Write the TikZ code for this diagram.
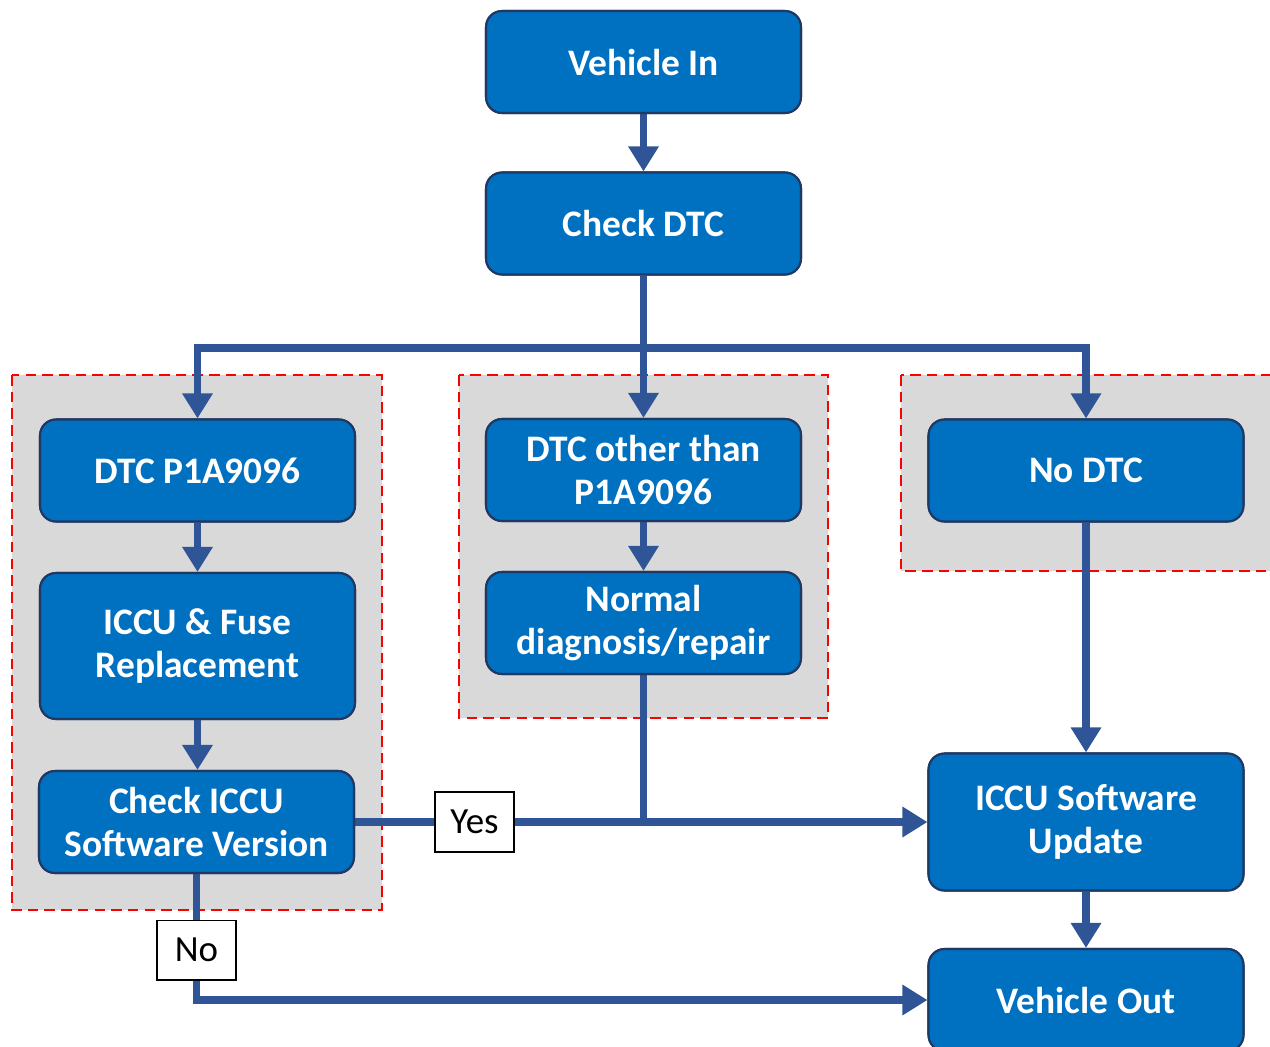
\documentclass[tikz,border=0pt]{standalone}
\usepackage{fontspec}
\setmainfont{Carlito}
\usetikzlibrary{arrows.meta}
\definecolor{boxblue}{HTML}{0070C0}
\definecolor{boxedge}{HTML}{1F3864}
\definecolor{linkblue}{HTML}{2F5597}
\definecolor{panel}{HTML}{D9D9D9}
\tikzset{
  stepbox/.style={draw=boxedge, line width=1.2pt, fill=boxblue, rounded corners=0.32cm,
    minimum width=6.3cm, minimum height=2.04cm, text=white, align=center,
    font=\fontsize{21.3}{24.5}\selectfont\bfseries, inner sep=2pt},
  panelbox/.style={fill=panel, draw=red, line width=1.5pt, dash pattern=on 6pt off 3.5pt},
  link/.style={draw=linkblue, line width=4.5pt},
  arr/.style={link, -{Triangle[width=0.58cm,length=0.5cm]}},
  lbl/.style={draw=black, fill=white, line width=0.6pt, minimum width=1.58cm, minimum height=1.2cm,
    font=\fontsize{21}{24}\selectfont, inner sep=1pt}
}
\begin{document}
\begin{tikzpicture}[x=0.02cm,y=-0.02cm]
\useasboundingbox (0,0) rectangle (1270,1046);
% panels
\draw[panelbox] (12,375) rectangle (382,910);
\draw[panelbox] (459,375) rectangle (828,718);
\draw[panelbox] (901,375) rectangle (1274,571);
% nodes
\node[stepbox] (vin) at (643.5,62) {Vehicle In};
\node[stepbox] (cdtc) at (643.5,223.5) {Check DTC};
\node[stepbox] (dtc1) at (197.5,470.5) {DTC P1A9096};
\node[stepbox, minimum height=2.92cm] (fuse) at (197.5,646) {ICCU \& Fuse\\Replacement};
\node[stepbox] (chk) at (196.5,822) {Check ICCU\\Software Version};
\node[stepbox] (dtc2) at (643.5,470) {DTC other than\\P1A9096};
\node[stepbox] (norm) at (643.5,623) {Normal\\diagnosis/repair};
\node[stepbox] (nodtc) at (1086,470.5) {No DTC};
\node[stepbox, minimum height=2.74cm] (swu) at (1086,822) {ICCU Software\\Update};
\node[stepbox] (vout) at (1086,1000) {Vehicle Out};
\coordinate (split) at (643.5,348);
\node[lbl] (yes) at (474.5,822) {Yes};
\node[lbl] (no) at (196.5,950) {No};
% connectors
\draw[arr] (vin) -- (cdtc);
\draw[link] (cdtc) -- (split);
\draw[arr] (split) -| (dtc1.north);
\draw[arr] (split) -- (dtc2.north);
\draw[arr] (split) -| (nodtc.north);
\draw[arr] (dtc1) -- (fuse);
\draw[arr] (fuse.south) -- (fuse.south |- chk.north);
\draw[arr] (dtc2) -- (norm);
\draw[link] (chk.east) -- (yes.west);
\draw[arr] (yes.east) -- (swu.west);
\draw[link] (norm.south) -- (norm.south |- swu.west);
\draw[arr] (nodtc) -- (swu);
\draw[arr] (swu) -- (vout);
\draw[link] (chk.south) -- (no.north);
\draw[arr] (no.south) |- (vout.west);
% redraw nodes on top
\node[stepbox] at (vin) {Vehicle In};
\node[stepbox] at (cdtc) {Check DTC};
\node[stepbox] at (dtc1) {DTC P1A9096};
\node[stepbox, minimum height=2.92cm] at (fuse) {ICCU \& Fuse\\Replacement};
\node[stepbox] at (chk) {Check ICCU\\Software Version};
\node[stepbox] at (dtc2) {DTC other than\\P1A9096};
\node[stepbox] at (norm) {Normal\\diagnosis/repair};
\node[stepbox] at (nodtc) {No DTC};
\node[stepbox, minimum height=2.74cm] at (swu) {ICCU Software\\Update};
\node[stepbox] at (vout) {Vehicle Out};
\node[lbl] at (yes) {Yes};
\node[lbl] at (no) {No};
\end{tikzpicture}
\end{document}
